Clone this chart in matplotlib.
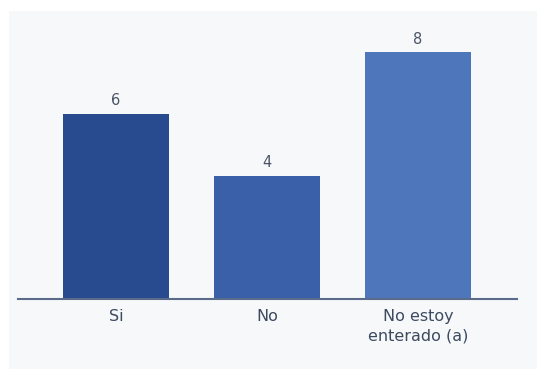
import matplotlib
matplotlib.use("Agg")
import matplotlib.pyplot as plt
from matplotlib.patches import Rectangle

categories = ["Si", "No", "No estoy\nenterado (a)"]
values = [6, 4, 8]
colors = ["#284a8e", "#3a60aa", "#4e77bb"]

plt.rcParams['font.family'] = ['DejaVu Sans']

fig = plt.figure(figsize=(5.37, 3.70), dpi=100, facecolor="white")
# light panel behind the chart
fig.patches.append(Rectangle((9 / 537, 1 / 370), 1, 358 / 370, transform=fig.transFigure,
                             facecolor="#f7f8fa", edgecolor="none", zorder=-10))

ax = fig.add_axes([18 / 537, 71 / 370, 499 / 537, 279 / 370])
ax.set_facecolor("none")

x = range(len(categories))
bars = ax.bar(x, values, width=0.70, color=colors, zorder=2)
for b, v in zip(bars, values):
    ax.annotate(str(v), (b.get_x() + b.get_width() / 2, v), xytext=(0, 4),
                textcoords="offset points", ha="center", va="bottom",
                fontsize=10.5, color="#4a5568")

ax.set_xlim(-0.649, 2.656)
ax.set_ylim(0, 9.04)
ax.set_xticks(list(x))
ax.set_xticklabels(categories, fontsize=11.5, color="#3c4a60", linespacing=1.4)
ax.tick_params(axis="x", length=0, pad=7)
ax.set_yticks([])
for s in ["top", "right", "left"]:
    ax.spines[s].set_visible(False)
ax.spines["bottom"].set_color("#5b6b8c")
ax.spines["bottom"].set_linewidth(1.5)

fig.savefig("out.png", dpi=100, facecolor=fig.get_facecolor())
